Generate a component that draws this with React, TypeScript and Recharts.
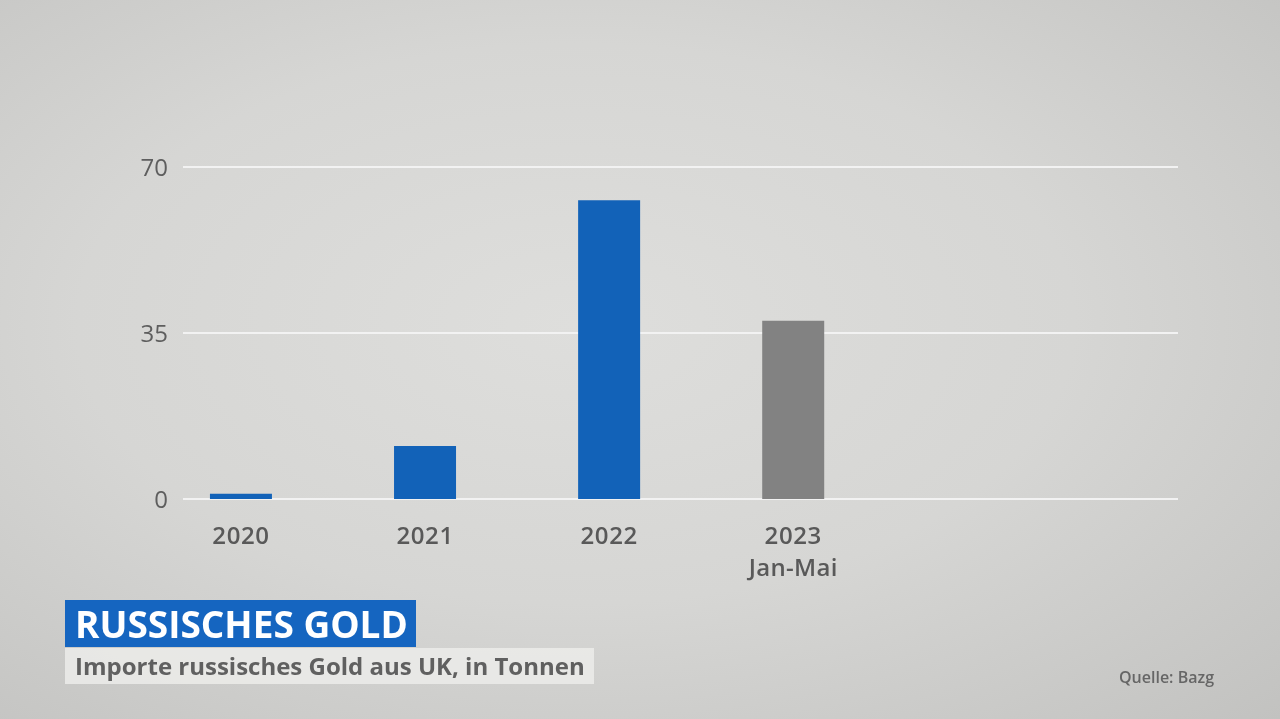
import { BarChart, Bar, XAxis, YAxis, CartesianGrid, Cell } from 'recharts';

// Importe russisches Gold aus UK, in Tonnen
const years = ['2020', '2021', '2022', '2023'];
const subLabels = ['', '', '', 'Jan-Mai'];
const tonnes = [1.1, 11.2, 63.0, 37.6];
const partial = [false, false, false, true];
const yTicks = [0, 35, 70];

const data = years.map((year, i) => ({
    x: i,
    year,
    sub: subLabels[i],
    value: tonnes[i],
    partial: partial[i],
}));

const FONT = '"Open Sans", "Noto Sans", sans-serif';
const BLUE = '#1262b8';
const GREY = '#828282';

function YearTick({ x, y, payload }: any) {
    const d = data[payload.value];
    if (!d) return null;
    return (
        <g>
            <text x={x} y={y + 45} textAnchor="middle" fill="#595959" fontSize={24} fontFamily={FONT} fontWeight={600} letterSpacing={0.6}>
                {d.year}
            </text>
            {d.sub && (
                <text x={x} y={y + 77} textAnchor="middle" fill="#595959" fontSize={24} fontFamily={FONT} fontWeight={600} letterSpacing={0.3}>
                    {d.sub}
                </text>
            )}
        </g>
    );
}

export default function App() {
    return (
        <div
            style={{
                position: 'fixed',
                left: 0,
                top: 0,
                width: 1280,
                height: 719,
                overflow: 'hidden',
                background: 'radial-gradient(ellipse at 45% 45%, #dededc 0%, #d6d6d4 50%, #c2c2c0 100%)',
                fontFamily: FONT,
            }}
        >
            <BarChart
                width={1280}
                height={719}
                data={data}
                margin={{ top: 167, right: 102, bottom: 140, left: 123 }}
                style={{ position: 'absolute', left: 0, top: 0 }}
            >
                <CartesianGrid vertical={false} stroke="#f2f2f2" strokeWidth={2} />
                <XAxis
                    dataKey="x"
                    type="number"
                    domain={[-0.315, 5.09]}
                    ticks={[0, 1, 2, 3]}
                    axisLine={false}
                    tickLine={false}
                    tickSize={0}
                    tickMargin={0}
                    tick={<YearTick />}
                    height={80}
                    allowDataOverflow
                />
                <YAxis
                    width={60}
                    domain={[0, 70]}
                    ticks={yTicks}
                    axisLine={false}
                    tickLine={false}
                    tickSize={0}
                    tickMargin={15}
                    tick={{ fill: '#5e5e5e', fontSize: 24, fontFamily: FONT, fontWeight: 500 }}
                />
                <Bar dataKey="value" barSize={62} isAnimationActive={false}>
                    {data.map((d, i) => (
                        <Cell key={`cell-${i}`} fill={d.partial ? GREY : BLUE} />
                    ))}
                </Bar>
            </BarChart>

            <div
                style={{
                    position: 'absolute',
                    left: 65,
                    top: 600,
                    height: 47,
                    padding: '0 8px 0 10px',
                    background: '#1565c0',
                    color: '#ffffff',
                    fontWeight: 700,
                    fontSize: 37,
                    lineHeight: '47px',
                    whiteSpace: 'nowrap',
                }}
            >
                RUSSISCHES GOLD
            </div>
            <div
                style={{
                    position: 'absolute',
                    left: 65,
                    top: 648,
                    height: 36,
                    padding: '0 9px 0 10px',
                    background: 'rgba(236,236,234,0.85)',
                    color: '#606060',
                    fontWeight: 700,
                    fontSize: 24,
                    lineHeight: '36px',
                    whiteSpace: 'nowrap',
                }}
            >
                Importe russisches Gold aus UK, in Tonnen
            </div>
            <div
                style={{
                    position: 'absolute',
                    left: 1119,
                    top: 666,
                    color: '#666666',
                    fontWeight: 600,
                    fontSize: 16,
                    whiteSpace: 'nowrap',
                }}
            >
                Quelle: Bazg
            </div>
        </div>
    );
}
